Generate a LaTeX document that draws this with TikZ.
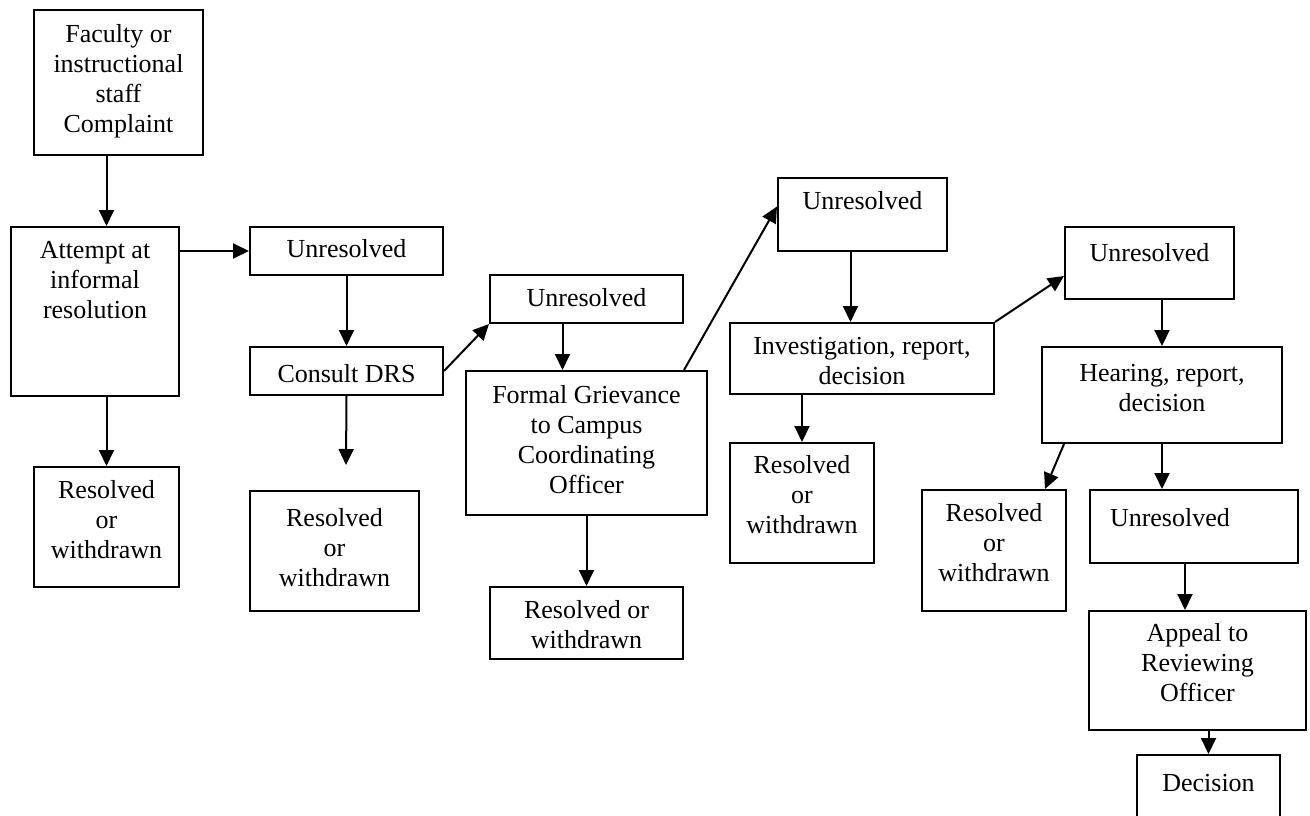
\documentclass[tikz,border=0pt]{standalone}
\usepackage{fontspec}
\setmainfont{Liberation Serif}
\usetikzlibrary{arrows.meta}

\begin{document}
\begin{tikzpicture}[x=1pt, y=-1pt, >={Triangle[length=16pt,width=15pt]},
		box/.style={draw, line width=2pt, anchor=north west, inner sep=0pt, align=flush center, font=\fontsize{26}{30}\selectfont},
		link/.style={->, line width=2pt}]
			\useasboundingbox (0,0) rectangle (1310,816);

			% Nodes
			\node[box, text width=169pt, text height=33pt, text depth=112pt] (faculty) at (33,9) {Faculty or\\instructional\\staff\\Complaint};
			\node[box, text width=168pt, text height=31pt, text depth=138pt] (attempt) at (10,226) {Attempt at\\informal\\resolution};
			\node[box, text width=145pt, text height=31pt, text depth=89pt] (res1) at (33,466) {Resolved\\or\\withdrawn};
			\node[box, text width=193pt, text height=30pt, text depth=18pt] (unres1) at (249,226) {Unresolved};
			\node[box, text width=193pt, text height=35pt, text depth=13pt] (consult) at (249,346) {Consult DRS};
			\node[box, text width=169pt, text height=35pt, text depth=85pt] (res2) at (249,490) {Resolved\\or\\withdrawn};
			\node[box, text width=193pt, text height=31pt, text depth=17pt] (unres2) at (489,274) {Unresolved};
			\node[box, text width=241pt, text height=32pt, text depth=112pt] (formal) at (465,370) {Formal Grievance\\to Campus\\Coordinating\\Officer};
			\node[box, text width=193pt, text height=31pt, text depth=41pt] (res3) at (489,586) {Resolved or\\withdrawn};
			\node[box, text width=169pt, text height=31pt, text depth=42pt] (unres3) at (777,177) {Unresolved};
			\node[box, text width=264pt, text height=31pt, text depth=40pt] (invest) at (729,322) {Investigation, report,\\decision};
			\node[box, text width=144pt, text height=30pt, text depth=90pt] (res4) at (729,442) {Resolved\\or\\withdrawn};
			\node[box, text width=169pt, text height=34pt, text depth=38pt] (unres4) at (1064,226) {Unresolved};
			\node[box, text width=240pt, text height=34pt, text depth=62pt] (hearing) at (1041,346) {Hearing, report,\\decision};
			\node[box, text width=144pt, text height=31pt, text depth=90pt] (res5) at (921,489) {Resolved\\or\\withdrawn};
			\node[box, align=flush left, text width=208pt, text height=36pt, text depth=37pt] (unres5) at (1089,489) {\hspace*{20pt}Unresolved};
			\node[box, text width=217pt, text height=30pt, text depth=89pt] (appeal) at (1088,610) {Appeal to\\Reviewing\\Officer};
			\node[box, text width=143pt, text height=36pt, text depth=46pt] (decision) at (1136,754) {Decision};
			\coordinate (drsend) at (346,465);

			% Arrows
			\draw[link] (res1.north |- faculty.south) -- (res1.north |- attempt.north);
			\draw[link] (res1.north |- attempt.south) -- (res1.north);
			\draw[link] (attempt.east |- unres1.west) -- (unres1.west);
			\draw[link] (unres1.south) -- (consult.north);
			\draw[link] (consult.east) -- (unres2.south west);
			\draw[link] (consult.south) -- (drsend);
			\draw[link] ([xshift=-24pt]unres2.south) -- ([xshift=-24pt]formal.north);
			\draw[link] (formal.south -| res3.north) -- (res3.north);
			\draw[link] ([xshift=-24pt]formal.north east) -- ([yshift=8pt]unres3.west);
			\draw[link] ([xshift=-12pt]unres3.south) -- ([xshift=-12pt]unres3.south |- invest.north);
			\draw[link] (invest.north east) -- ([yshift=-13pt]unres4.west);
			\draw[link] (res4.north |- invest.south) -- (res4.north);
			\draw[link] (hearing.north |- unres4.south) -- (hearing.north);
			\draw[link] ([xshift=23pt]hearing.south west) -- ([xshift=-22pt]res5.north east);
			\draw[link] (hearing.south) -- (hearing.south |- unres5.north);
			\draw[link] ([xshift=-9pt]unres5.south) -- ([xshift=-9pt]unres5.south |- appeal.north);
			\draw[link] (decision.north |- appeal.south) -- (decision.north);
		\end{tikzpicture}
\end{document}
